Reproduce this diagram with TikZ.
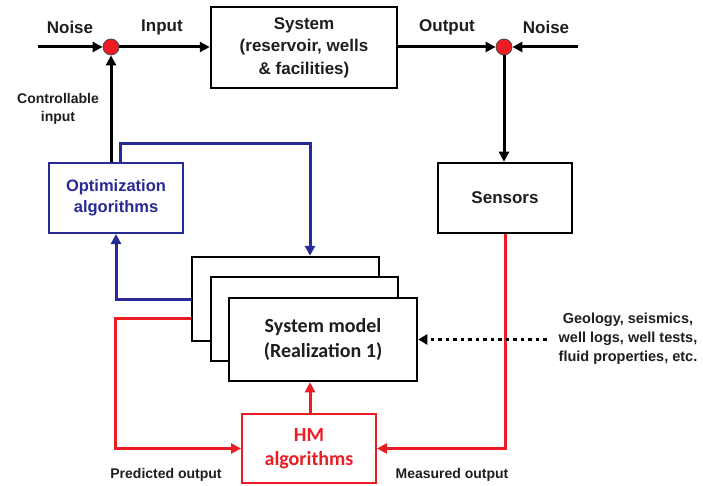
\documentclass[tikz,border=0pt]{standalone}
\usepackage{fontspec}
\setmainfont{Liberation Sans}
\newfontfamily\calfont{Carlito}
\usetikzlibrary{arrows.meta}
\definecolor{myred}{RGB}{237,28,36}
\definecolor{myblue}{RGB}{40,42,150}
\definecolor{mytext}{RGB}{30,30,30}
\tikzset{
  boxblk/.style={draw=black, line width=2.5pt, rectangle, inner sep=0pt, fill=white, align=center, text=mytext,
    font=\fontsize{17}{22.5}\selectfont\bfseries},
  stackbox/.style={draw=black, line width=2.5pt, rectangle, inner sep=0pt, fill=white},
  optbox/.style={draw=myblue, line width=2pt, rectangle, inner sep=0pt, fill=white, align=center, text=myblue,
    font=\fontsize{16.5}{21}\selectfont\bfseries},
  hmbox/.style={draw=myred, line width=2pt, rectangle, inner sep=0pt, fill=white, align=center, text=myred,
    font=\calfont\fontsize{20}{24}\selectfont\bfseries},
  junction/.style={circle, fill=myred, draw=black!70, line width=0.8pt, minimum size=16pt, inner sep=0pt},
  toplbl/.style={font=\fontsize{17}{20}\selectfont\bfseries, text=mytext, inner sep=0pt},
  smalllbl/.style={font=\fontsize{14}{18}\selectfont\bfseries, text=mytext, inner sep=0pt, align=center},
  geolbl/.style={font=\fontsize{14.5}{19}\selectfont\bfseries, text=mytext, inner sep=0pt, align=center},
  conn/.style={draw=black, line width=3pt, -{Triangle[length=10pt,width=10pt]}},
  blueconn/.style={draw=myblue, line width=3pt, -{Triangle[length=10pt,width=10pt]}},
  redconn/.style={draw=myred, line width=3pt, -{Triangle[length=10pt,width=10pt]}},
  dotconn/.style={draw=black, line width=3.5pt, dash pattern=on 3.5pt off 4pt, -{Triangle[length=9pt,width=10pt]}},
}
\begin{document}
\begin{tikzpicture}[x=1pt,y=-1pt]
\useasboundingbox (0,0) rectangle (703,486);

% main boxes
\node[boxblk, minimum width=186pt, minimum height=81pt] (sys) at (304,47.5) {System\\(reservoir, wells\\\& facilities)};
\node[junction] (c1) at (111,47) {};
\node[junction] (c2) at (504,47) {};
\coordinate (nl) at (38,47);
\coordinate (nr) at (578,47);
\node[boxblk, minimum width=134pt, minimum height=70pt] (sens) at (505,198) {Sensors};
\node[optbox, minimum width=134pt, minimum height=70pt] (opt) at (116,198) {Optimization\\algorithms};

% stacked model boxes
\node[stackbox, minimum width=187pt, minimum height=84pt] (back) at (285.5,299) {};
\node[stackbox, minimum width=187pt, minimum height=84pt] (mid) at (304.5,319) {};
\node[stackbox, minimum width=188pt, minimum height=83pt, align=center, text=mytext,
      font=\calfont\fontsize{20}{25}\selectfont\bfseries] (front) at (323,339.5) {System model\\(Realization 1)};

\node[hmbox, minimum width=134pt, minimum height=69pt] (hm) at (309,448.5) {HM\\algorithms};

% labels
\node[toplbl] (lnoise1) at (70,27) {Noise};
\node[toplbl] (linput) at (162,27) {Input};
\node[toplbl] (loutput) at (447,27) {Output};
\node[toplbl] (lnoise2) at (546,27) {Noise};
\node[smalllbl] (lctrl) at (58,109) {Controllable\\input};
\node[smalllbl] (lpred) at (166,475) {Predicted output};
\node[smalllbl] (lmeas) at (452,475) {Measured output};
\node[geolbl] (geo) at (628,339) {Geology, seismics,\\well logs, well tests,\\fluid properties, etc.};

% black connectors
\draw[conn] (nl) -- (c1);
\draw[conn] (c1) -- (sys.west |- c1);
\draw[conn] (sys.east |- c2) -- (c2);
\draw[conn] (nr) -- (c2);
\draw[conn] (c2) -- (sens.north -| c2);
\draw[conn] (opt.north -| c1) -- (c1);

% blue connectors
\draw[blueconn] ([xshift=4pt]opt.north) -- ++(0,-18) -| ([xshift=24.5pt]back.north);
\draw[blueconn] (back.west) -| (opt.south);

% red connectors
\draw[redconn] ([yshift=-19pt]back.west) -| ([xshift=-1pt]opt.south |- hm.west) -- (hm.west);
\draw[redconn] (sens.south) |- (hm.east);
\draw[redconn] ([xshift=1pt]hm.north) -- ([xshift=1pt]hm.north |- front.south);

% dotted connector
\draw[dotconn, shorten <=12pt] (front.east -| geo.west) -- (front.east);
\end{tikzpicture}
\end{document}
